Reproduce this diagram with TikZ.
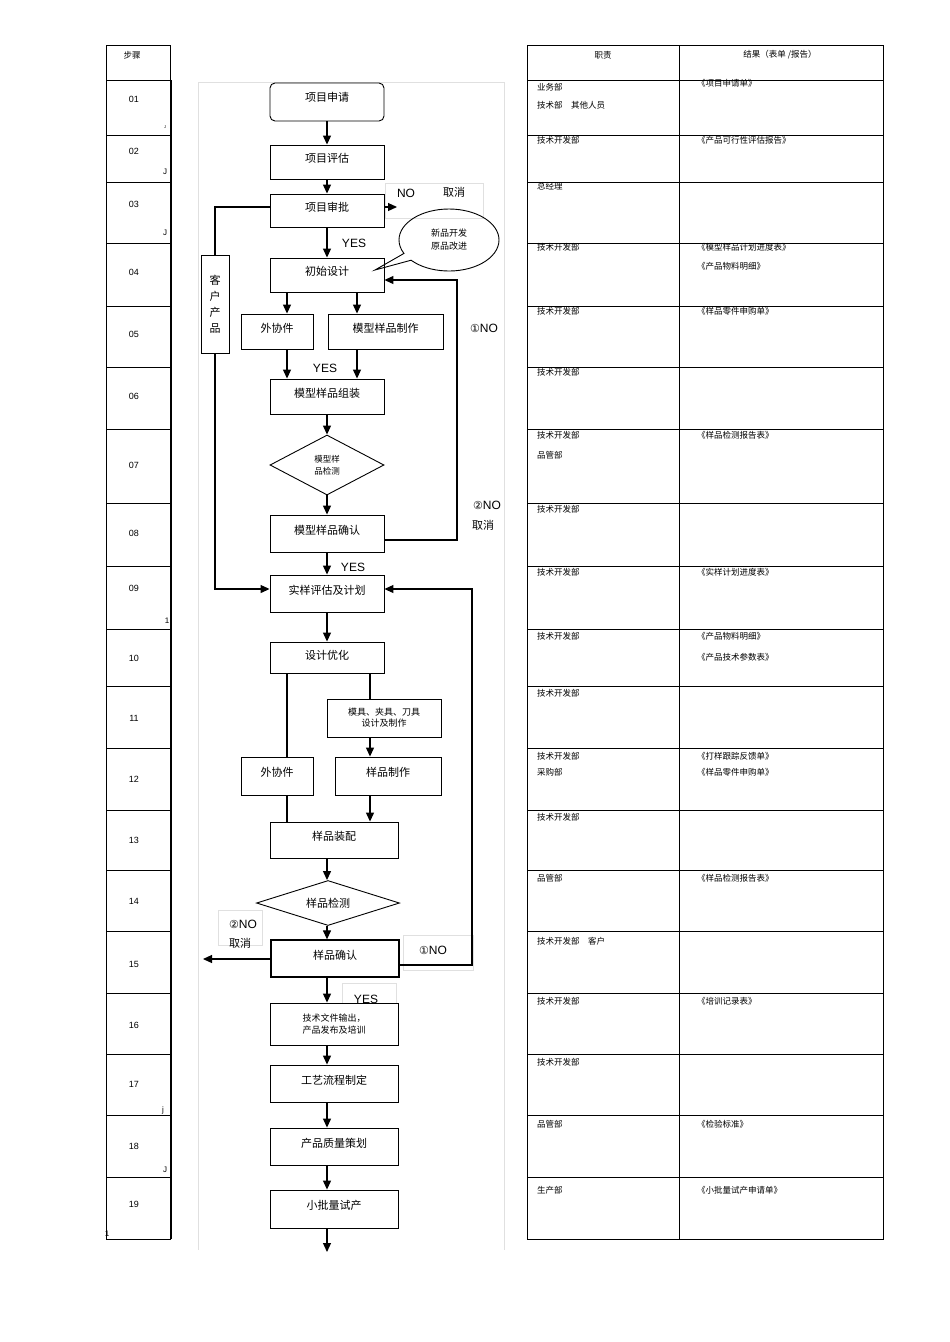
\documentclass[tikz,border=0pt]{standalone}
\usepackage{fontspec}
\setmainfont{Liberation Sans}
\newfontfamily\cjk{Noto Sans CJK SC}
\newfontfamily\dv{DejaVu Sans}
\usetikzlibrary{shapes.geometric,shapes.callouts,arrows.meta}
\begin{document}
\begin{tikzpicture}[x=1pt,y=-1pt,
  bx/.style={draw,line width=0.9pt,inner sep=0,font=\cjk\fontsize{11}{13}\selectfont},
  arr/.style={line width=1.2pt,-{Triangle[length=9pt,width=8pt]}},
  ln/.style={line width=1.2pt},
  tl/.style={font=\cjk\fontsize{8.5}{10}\selectfont,anchor=west,inner sep=0},
  lb/.style={font=\fontsize{12}{14}\selectfont,inner sep=0},
  faint/.style={draw=black!12,line width=0.6pt}]
\useasboundingbox (0,0) rectangle (950,1342);
% left table
\draw[line width=0.6pt] (106,45) rectangle (170,1239);
\foreach \y in {80,135,182,243,306,367,429,503,566,629,686,748,810,870,931,993,1054,1115,1177}
  \draw[line width=0.6pt] (106,\y) -- (170,\y);
\draw[line width=1pt] (171,80) -- (171,1239);
\node[font=\cjk\fontsize{8.5}{10}\selectfont] (h0) at (132,55) {步骤};
\foreach \n/\y in {01/99,02/151,03/204,04/272,05/334,06/396,07/465,08/533,09/588,10/658,11/718,12/779,13/840,14/901,15/964,16/1025,17/1084,18/1146,19/1204}
  \node[font=\fontsize{9}{10}\selectfont] (s\n) at (134,\y) {\n};
\foreach \t/\x/\y/\s in {J/165/127/4,J/165/172/8,J/165/233/8,1/167/621/8,j/163/1110/8,J/165/1170/8,1/107/1234/8}
  \node[font=\fontsize{\s}{9}\selectfont,inner sep=0] at (\x,\y) {\t};
% right table
\draw[line width=0.6pt] (527,45) rectangle (883,1239);
\draw[line width=0.6pt] (679,45) -- (679,1239);
\foreach \y in {80,135,182,243,306,367,429,503,566,629,686,748,810,870,931,993,1054,1115,1177}
  \draw[line width=0.6pt] (527,\y) -- (883,\y);
\node[font=\cjk\fontsize{8.5}{10}\selectfont] (h1) at (603,55) {职责};
\node[font=\cjk\fontsize{8.5}{10}\selectfont] (h2) at (780,55) {结果（表单 /报告）};
\foreach \t/\y in {业务部/87,技术部\quad 其他人员/105,技术开发部/140,总经理/186,技术开发部/247,技术开发部/311,技术开发部/372,技术开发部/435,品管部/455,技术开发部/509,技术开发部/572,技术开发部/636,技术开发部/693,技术开发部/756,采购部/772,技术开发部/817,品管部/878,技术开发部\quad 客户/941,技术开发部/1001,技术开发部/1062,品管部/1124,生产部/1190}
  \node[tl] at (537,\y) {\t};
\foreach \t/\y in {《项目申请单》/83,《产品可行性评估报告》/140,《模型样品计划进度表》/247,《产品物料明细》/266,《样品零件申购单》/311,《样品检测报告表》/435,《实样计划进度表》/572,《产品物料明细》/636,《产品技术参数表》/657,《打样跟踪反馈单》/756,《样品零件申购单》/772,《样品检测报告表》/878,《培训记录表》/1001,《检验标准》/1124,《小批量试产申请单》/1190}
  \node[tl] at (697,\y) {\t};
% faint panel
\draw[faint] (198,82) -- (504,82);
\draw[faint] (198,82) -- (198,1250);
\draw[faint] (504,82) -- (504,1250);
\draw[faint] (385,183) rectangle (483,218);
\draw[faint] (218,910) rectangle (262,945);
\draw[faint] (403,935) rectangle (473,970);
\draw[faint] (342,983) rectangle (396,1003);
% nodes
\node[bx,rounded corners=5pt,minimum width=114pt,minimum height=38pt] (a1) at (327,102) {\raisebox{10pt}{项目申请}};
\node[bx,minimum width=114pt,minimum height=34pt] (a2) at (327,162) {\raisebox{8pt}{项目评估}};
\node[bx,minimum width=114pt,minimum height=33pt] (a3) at (327,210.5) {\raisebox{8pt}{项目审批}};
\node[bx,minimum width=114pt,minimum height=34pt] (a4) at (327,275) {\raisebox{8pt}{初始设计}};
\node[bx,minimum width=72pt,minimum height=35pt] (a5) at (277,331.5) {\raisebox{8pt}{外协件}};
\node[bx,minimum width=115pt,minimum height=35pt] (a6) at (385.5,331.5) {\raisebox{8pt}{模型样品制作}};
\node[bx,minimum width=114pt,minimum height=35pt] (a7) at (327,396.5) {\raisebox{8pt}{模型样品组装}};
\node[bx,diamond,aspect=1.9,minimum width=114pt,minimum height=60pt,font=\cjk\fontsize{8.5}{12}\selectfont,align=center] (a8) at (327,465) {模型样\\品检测};
\node[bx,minimum width=114pt,minimum height=37pt] (a9) at (327,533.5) {\raisebox{8pt}{模型样品确认}};
\node[bx,minimum width=114pt,minimum height=37pt] (b1) at (327,593.5) {\raisebox{8pt}{实样评估及计划}};
\node[bx,minimum width=114pt,minimum height=31pt] (b2) at (327,657.5) {\raisebox{6pt}{设计优化}};
\node[bx,minimum width=114pt,minimum height=38pt,font=\cjk\fontsize{9}{11}\selectfont,align=center] (b3) at (384,718) {模具、夹具、刀具\\设计及制作};
\node[bx,minimum width=72pt,minimum height=38pt] (b4) at (277,776) {\raisebox{8pt}{外协件}};
\node[bx,minimum width=106pt,minimum height=38pt] (b5) at (388,776) {\raisebox{8pt}{样品制作}};
\node[bx,minimum width=128pt,minimum height=36pt] (b6) at (334,840) {\raisebox{8pt}{样品装配}};
\node[bx,diamond,aspect=3.2,minimum width=143pt,minimum height=45pt] (b7) at (328,903) {样品检测};
\node[bx,minimum width=128pt,minimum height=37pt,line width=1.3pt] (b8) at (335,958.5) {\raisebox{8pt}{样品确认}};
\node[bx,minimum width=128pt,minimum height=42pt,font=\cjk\fontsize{9}{12}\selectfont,align=center] (b9) at (334,1024) {技术文件输出，\\产品发布及培训};
\node[bx,minimum width=128pt,minimum height=37pt] (c1) at (334,1083.5) {\raisebox{8pt}{工艺流程制定}};
\node[bx,minimum width=128pt,minimum height=37pt] (c2) at (334,1146.5) {\raisebox{8pt}{产品质量策划}};
\node[bx,minimum width=128pt,minimum height=38pt] (c3) at (334,1209) {\raisebox{8pt}{小批量试产}};
\coordinate (end) at (327,1252);
\node[bx,minimum width=28pt,minimum height=98pt,align=center,anchor=north,font=\cjk\fontsize{11}{16}\selectfont] (cu) at (215,255) {客\\户\\产\\品};
\node[draw,line width=0.9pt,ellipse callout,minimum width=100pt,minimum height=62pt,callout absolute pointer={(375,270)},font=\cjk\fontsize{9}{13}\selectfont,align=center] (co) at (449,240) {新品开发\\原品改进};
% arrows main
\draw[arr] (a1) -- (a2);
\draw[arr] (a2) -- (a3);
\draw[arr] (a3) -- (a4);
\draw[arr] (a4.south -| 287,0) -- (a5.north -| 287,0);
\draw[arr] (a4.south -| 357,0) -- (a6.north -| 357,0);
\draw[arr] (a5.south -| 287,0) -- (a7.north -| 287,0);
\draw[arr] (a6.south -| 357,0) -- (a7.north -| 357,0);
\draw[arr] (a7) -- (a8);
\draw[arr] (a8) -- (a9);
\draw[arr] (a9) -- (b1);
\draw[arr] (b1) -- (b2);
\draw[ln] (b2.south -| 287,0) -- (b4.north -| 287,0);
\draw[ln] (b4.south -| 287,0) -- (b6.north -| 287,0);
\draw[ln] (b2.south -| 370,0) -- (b3.north -| 370,0);
\draw[arr] (b3.south -| 370,0) -- (b5.north -| 370,0);
\draw[arr] (b5.south -| 370,0) -- (b6.north -| 370,0);
\draw[arr] (b6.south -| 327,0) -- (b7.north -| 327,0);
\draw[arr] (b7.south -| 327,0) -- (b8.north -| 327,0);
\draw[arr] (b8.south -| 327,0) -- (b9.north -| 327,0);
\draw[arr] (b9.south -| 327,0) -- (c1.north -| 327,0);
\draw[arr] (c1.south -| 327,0) -- (c2.north -| 327,0);
\draw[arr] (c2.south -| 327,0) -- (c3.north -| 327,0);
\draw[arr] (c3.south -| 327,0) -- (end);
% side paths
\coordinate (no1) at (397,207);
\draw[arr] (a3.east |- 0,207) -- (no1);
\draw[ln] (a3.west |- 0,207) -| (cu.north);
\draw[arr] (cu.south) |- (b1.west |- 0,589);
\draw[arr] (a9.east |- 0,540) -| (457,280) -- (a4.east |- 0,280);
\draw[arr] (b8.east |- 0,965) -| (472,589) -- (b1.east |- 0,589);
\coordinate (no2) at (203,959);
\draw[arr] (b8.west |- 0,959) -- (no2);
% labels
\node[lb] at (406,193) {NO};
\node[lb,font=\cjk\fontsize{11}{13}\selectfont] at (454,192) {取消};
\node[lb] at (354,243) {YES};
\node[lb] at (325,368) {YES};
\node[lb] at (484,328) {{\dv\fontsize{11}{13}\selectfont ①}NO};
\node[lb] at (487,505) {{\dv\fontsize{11}{13}\selectfont ②}NO};
\node[lb,font=\cjk\fontsize{11}{13}\selectfont] at (483,525) {取消};
\node[lb] at (353,567) {YES};
\node[lb] at (243,924) {{\dv\fontsize{11}{13}\selectfont ②}NO};
\node[lb,font=\cjk\fontsize{11}{13}\selectfont] at (240,943) {取消};
\node[lb] at (433,950) {{\dv\fontsize{11}{13}\selectfont ①}NO};
\begin{scope}
\clip (340,985) rectangle (400,1003);
\node[lb] at (366,999) {YES};
\end{scope}
\end{tikzpicture}
\end{document}
